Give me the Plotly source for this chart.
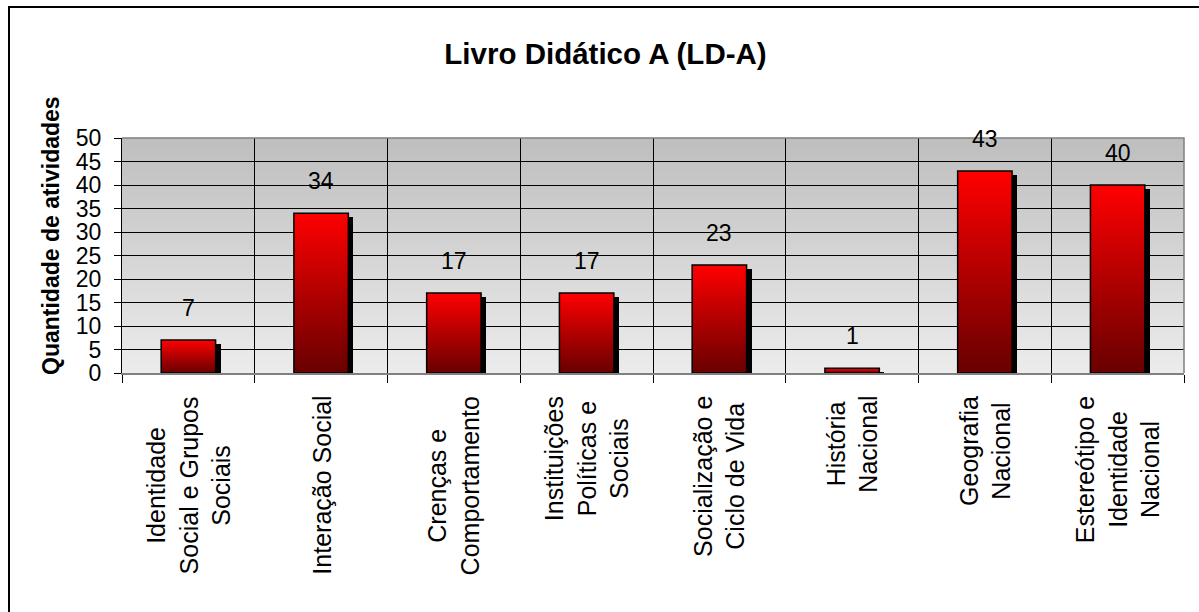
import base64
import plotly.graph_objects as go

# ---- data ----
categories = [
    "Identidade<br>Social e Grupos<br>Sociais",
    "Interação Social",
    "Crenças e<br>Comportamento",
    "Instituições<br>Políticas e<br>Sociais",
    "Socialização e<br>Ciclo de Vida",
    "História<br>Nacional",
    "Geografia<br>Nacional",
    "Estereótipo e<br>Identidade<br>Nacional",
]
values = [7, 34, 17, 17, 23, 1, 43, 40]
y_ticks = [0, 5, 10, 15, 20, 25, 30, 35, 40, 45, 50]
title_text = "Livro Didático A (LD-A)"
y_title = "Quantidade de atividades"

# ---- style constants ----
FONT = "Liberation Sans, Arial, sans-serif"
W, H = 1199, 612
L, R, T, B = 122, 15, 138, 239
plot_w = W - L - R
plot_h = H - T - B
n = len(categories)
bar_w = 0.41
px_x = n / plot_w          # data units per pixel (x)
px_y = 50 / plot_h         # data units per pixel (y)
sh_dx, sh_dy = 5 * px_x, 4 * px_y

fig = go.Figure()

# shadow bars
fig.add_trace(go.Bar(
    x=list(range(n)),
    y=[max(v - sh_dy, 0) for v in values],
    base=0,
    width=bar_w,
    offset=-bar_w / 2 + sh_dx,
    marker=dict(color="black", line=dict(width=0)),
    hoverinfo="skip",
    showlegend=False,
))

# main bars drawn as filled shapes (for the gradient)
for i, v in enumerate(values):
    x0, x1 = i - bar_w / 2, i + bar_w / 2
    fig.add_trace(go.Scatter(
        x=[x0, x1, x1, x0, x0],
        y=[0, 0, v, v, 0],
        mode="lines",
        fill="toself",
        fillgradient=dict(
            type="vertical",
            start=0,
            stop=v,
            colorscale=[[0, "#680000"], [0.5, "#B20000"], [1, "#FF0000"]],
        ),
        line=dict(color="black", width=1.5),
        hoverinfo="skip",
        showlegend=False,
    ))

annotations = []
# value labels
for i, v in enumerate(values):
    annotations.append(dict(
        x=i, y=v, xref="x", yref="y", text=str(v), showarrow=False,
        yanchor="bottom", yshift=17, font=dict(family=FONT, size=23, color="black"),
    ))
# category labels
for i, c in enumerate(categories):
    annotations.append(dict(
        x=i, y=-(394 - (T + plot_h)) / plot_h, xref="x", yref="paper", text=c,
        showarrow=False, textangle=-90, yanchor="top", xanchor="center",
        align="center", font=dict(family=FONT, size=25, color="black"),
    ))
# y-axis title
annotations.append(dict(
    x=(51 - L) / plot_w, y=(T + plot_h - 236) / plot_h, xref="paper", yref="paper",
    text="<b>" + y_title + "</b>", showarrow=False, textangle=-90,
    xanchor="center", yanchor="middle", font=dict(family=FONT, size=23, color="black"),
))

svg = ('<svg xmlns="http://www.w3.org/2000/svg" width="100" height="100" '
       'preserveAspectRatio="none"><defs><linearGradient id="g" x1="0" y1="0" x2="0" y2="1">'
       '<stop offset="0" stop-color="#BEBEBE"/><stop offset="1" stop-color="#ECECEC"/>'
       '</linearGradient></defs><rect width="100" height="100" fill="url(#g)"/></svg>')
svg_uri = "data:image/svg+xml;base64," + base64.b64encode(svg.encode()).decode()

fig.update_layout(
    width=W, height=H,
    margin=dict(l=L, r=R, t=T, b=B, pad=0),
    paper_bgcolor="white",
    plot_bgcolor="rgba(0,0,0,0)",
    font=dict(family=FONT, color="black"),
    title=dict(
        text="<b>" + title_text + "</b>", x=0.505, xanchor="center",
        y=1 - 54 / H, yanchor="middle", font=dict(family=FONT, size=29.5, color="black"),
    ),
    xaxis=dict(
        range=[-0.5, n - 0.5],
        tickvals=[i - 0.5 for i in range(n + 1)],
        ticktext=[""] * (n + 1),
        showgrid=True, gridcolor="black", gridwidth=1,
        ticks="outside", ticklen=8, tickcolor="black", tickwidth=1,
        showline=True, linecolor="#808080", linewidth=2,
        zeroline=False, fixedrange=True,
    ),
    yaxis=dict(
        range=[0, 50],
        tickvals=y_ticks,
        showgrid=True, gridcolor="black", gridwidth=1,
        ticks="outside", ticklen=7, tickcolor="black", tickwidth=1,
        showline=True, linecolor="black", linewidth=1,
        zeroline=False, tickfont=dict(family=FONT, size=23, color="black"),
        ticklabelstandoff=8,
        fixedrange=True,
    ),
    images=[dict(
        source=svg_uri, xref="x", yref="y", x=-0.5, y=50, sizex=n, sizey=50,
        sizing="stretch", layer="below", xanchor="left", yanchor="top",
    )],
    annotations=annotations,
    shapes=[
        dict(type="rect", xref="paper", yref="paper",
             x0=(9 - L) / plot_w, x1=(W + 10 - L) / plot_w,
             y0=(T + plot_h - (H + 10)) / plot_h, y1=(T + plot_h - 7) / plot_h,
             line=dict(color="black", width=2), fillcolor="rgba(0,0,0,0)", layer="above"),
        dict(type="path", xref="paper", yref="paper", path="M 0,1 L 1,1 L 1,0",
             line=dict(color="#808080", width=1.5), layer="above"),
    ],
    bargap=0,
)

fig.write_html(
    "out.html",
    config={"displayModeBar": False, "staticPlot": True},
    post_script="document.body.style.margin='0';document.body.style.overflow='hidden';",
)
